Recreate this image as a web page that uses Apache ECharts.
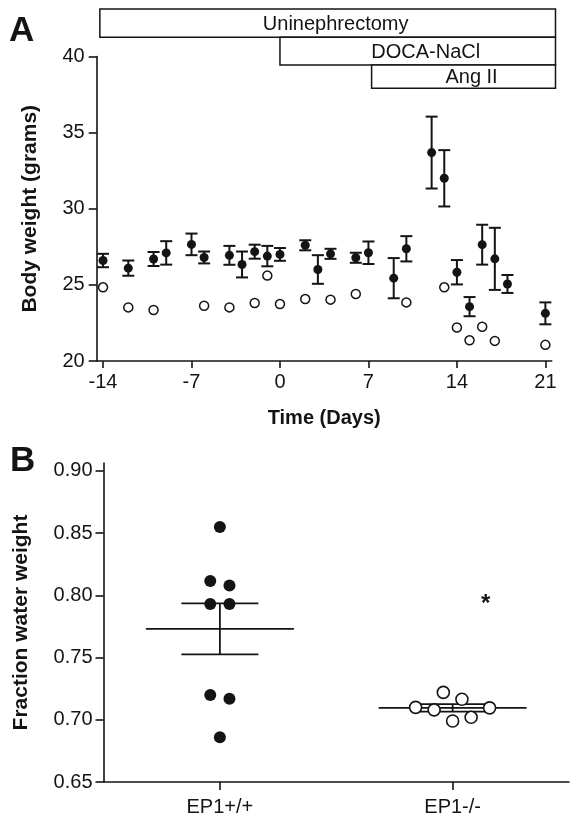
<!DOCTYPE html>
<html><head><meta charset="utf-8">
<script src="https://cdn.jsdelivr.net/npm/echarts@6/dist/echarts.min.js"></script>
<style>html,body{margin:0;padding:0;background:#fff}#c{width:578px;height:826px}</style>
</head><body><div id="c"></div>
<script>
const FONT = "'Liberation Sans', Arial, Helvetica, sans-serif";
const INK = '#141414';

// ---------- Panel A data ----------
const dayTicks = [-14, -7, 0, 7, 14, 21];
const weightTicks = [20, 25, 30, 35, 40];
// EP1+/+ (filled) : day, mean body weight, SEM
const filledDays = [-14, -12, -10, -9, -7, -6, -4, -3, -2, -1, 0, 2, 3, 4, 6, 7, 9, 10, 12, 13, 14, 15, 16, 17, 18, 21];
const filledWeight = [26.6, 26.1, 26.7, 27.1, 27.66, 26.8, 26.94, 26.34, 27.18, 26.89, 27.0, 27.6, 26.01, 27.04, 26.78, 27.11, 25.44, 27.37, 33.69, 32.0, 25.83, 23.57, 27.64, 26.71, 25.06, 23.13];
const filledSem = [0.44, 0.5, 0.46, 0.77, 0.71, 0.39, 0.62, 0.85, 0.46, 0.67, 0.42, 0.33, 0.94, 0.33, 0.33, 0.74, 1.32, 0.83, 2.36, 1.85, 0.8, 0.63, 1.31, 2.04, 0.59, 0.72];
// EP1-/- (open)
const openDays = [-14, -12, -10, -6, -4, -2, -1, 0, 2, 4, 6, 10, 13, 14, 15, 16, 17, 21];
const openWeight = [24.84, 23.52, 23.35, 23.63, 23.52, 23.81, 25.61, 23.74, 24.07, 24.03, 24.4, 23.85, 24.84, 22.2, 21.36, 22.25, 21.32, 21.06];
// treatment periods (days)
const treatmentLabels = ['Uninephrectomy', 'DOCA-NaCl', 'Ang II'];
const treatmentStart = [-14.25, 0, 7.25];
const treatmentEnd = [21.8, 21.8, 21.8];

// ---------- Panel B data ----------
const groups = ['EP1+/+', 'EP1-/-'];
const fractionTicks = [0.65, 0.70, 0.75, 0.80, 0.85, 0.90];
const wtWater = [0.855, 0.8115, 0.808, 0.793, 0.793, 0.720, 0.717, 0.686];
const koWater = [0.710, 0.708, 0.722, 0.699, 0.7165, 0.702, 0.7096];
const groupMean = [0.773, 0.7096];
const groupSem = [0.0205, 0.003];
const sigGroup = ['EP1-/-'];
const sigValue = [0.797];
const sigMark = ['*'];

// layout-only: horizontal jitter of dots (px)
const wtJitterPx = [0, -9.6, 9.6, -9.6, 9.6, -9.6, 9.6, 0];
const koJitterPx = [-37, -18.5, -9.3, 0, 9.3, 18.5, 37];
const rowTopPx = [9, 37.3, 65];
const rowBottomPx = [37.3, 65, 88.3];

const chart = echarts.init(document.getElementById('c'), null, {renderer: 'canvas'});

function errRender(params, api) {
  const x = api.value(0), m = api.value(1), s = api.value(2);
  const t = api.coord([x, m + s]), b = api.coord([x, m - s]);
  const hw = 6, st = {stroke: INK, lineWidth: 2};
  return {type: 'group', children: [
    {type: 'line', shape: {x1: t[0], y1: t[1], x2: b[0], y2: b[1]}, style: st},
    {type: 'line', shape: {x1: t[0] - hw, y1: t[1], x2: t[0] + hw, y2: t[1]}, style: st},
    {type: 'line', shape: {x1: b[0] - hw, y1: b[1], x2: b[0] + hw, y2: b[1]}, style: st}
  ]};
}

function boxRender(params, api) {
  const i = params.dataIndex;
  const x1 = api.coord([api.value(0), 30])[0];
  const x2 = api.coord([api.value(1), 30])[0];
  const y1 = rowTopPx[i], y2 = rowBottomPx[i];
  return {type: 'group', children: [
    {type: 'rect', shape: {x: x1, y: y1, width: x2 - x1, height: y2 - y1},
      style: {fill: '#fff', stroke: INK, lineWidth: 1.5}},
    {type: 'text', style: {x: (x1 + x2) / 2 + 8, y: (y1 + y2) / 2 + 1, text: treatmentLabels[i],
      fill: INK, font: '20px ' + FONT, align: 'center', verticalAlign: 'middle'}}
  ]};
}

function meanRender(params, api) {
  const c = api.value(0), m = api.value(1), s = api.value(2);
  const p = api.coord([c, m]), t = api.coord([c, m + s]), b = api.coord([c, m - s]);
  const mw = 74, cw = 38.5, st = {stroke: INK, lineWidth: 1.8};
  return {type: 'group', children: [
    {type: 'line', shape: {x1: p[0] - mw, y1: p[1], x2: p[0] + mw, y2: p[1]}, style: st},
    {type: 'line', shape: {x1: t[0], y1: t[1], x2: b[0], y2: b[1]}, style: st},
    {type: 'line', shape: {x1: t[0] - cw, y1: t[1], x2: t[0] + cw, y2: t[1]}, style: st},
    {type: 'line', shape: {x1: b[0] - cw, y1: b[1], x2: b[0] + cw, y2: b[1]}, style: st}
  ]};
}

const axisLine = {show: true, onZero: false, lineStyle: {color: INK, width: 1.6}};
const labelA = {color: INK, fontSize: 20, fontFamily: FONT};
const labelB = {color: INK, fontSize: 20, fontFamily: FONT};
const nameStyle = {color: INK, fontSize: 20, fontWeight: 'bold', fontFamily: FONT};
const nameStyleY = {color: INK, fontSize: 21, fontWeight: 'bold', fontFamily: FONT};

const option = {
  animation: false,
  backgroundColor: '#fff',
  grid: [
    {left: 96.7, top: 56.5, width: 455, height: 304.5},
    {left: 103.5, top: 463, width: 465.5, height: 319}
  ],
  xAxis: [
    {gridIndex: 0, type: 'value', min: -14.5, max: 21.5,
      axisLine: axisLine, splitLine: {show: false},
      axisTick: {show: true, length: 7, lineStyle: {color: INK, width: 1.6}, customValues: dayTicks},
      axisLabel: Object.assign({margin: 11, customValues: dayTicks}, labelA),
      name: 'Time (Days)', nameLocation: 'middle', nameGap: 47, nameTextStyle: nameStyle},
    {gridIndex: 1, type: 'category', data: groups, boundaryGap: true,
      axisLine: axisLine,
      axisTick: {show: true, alignWithLabel: true, length: 8, lineStyle: {color: INK, width: 1.6}},
      axisLabel: Object.assign({margin: 15}, labelB)}
  ],
  yAxis: [
    {gridIndex: 0, type: 'value', min: 20, max: 40, interval: 5,
      axisLine: axisLine, splitLine: {show: false},
      axisTick: {show: true, length: 8, lineStyle: {color: INK, width: 1.6}},
      axisLabel: Object.assign({margin: 12}, labelA),
      name: 'Body weight (grams)', nameLocation: 'middle', nameGap: 56, nameTextStyle: nameStyleY},
    {gridIndex: 1, type: 'value', min: 0.65, max: 0.9064,
      axisLine: axisLine, splitLine: {show: false},
      axisTick: {show: true, length: 8, lineStyle: {color: INK, width: 1.6}, customValues: fractionTicks},
      axisLabel: Object.assign({margin: 11, customValues: fractionTicks, formatter: v => v.toFixed(2)}, labelB),
      name: 'Fraction water weight', nameLocation: 'middle', nameGap: 72, nameTextStyle: nameStyleY}
  ],
  series: [
    {type: 'custom', xAxisIndex: 0, yAxisIndex: 0, renderItem: boxRender, clip: false, silent: true,
      data: treatmentStart.map((s, i) => [s, treatmentEnd[i], 30]), encode: {x: [0, 1], y: 2}, z: 1},
    {type: 'custom', xAxisIndex: 0, yAxisIndex: 0, renderItem: errRender, silent: true,
      data: filledDays.map((d, i) => [d, filledWeight[i], filledSem[i]]), encode: {x: 0, y: 1}, z: 2},
    {type: 'scatter', xAxisIndex: 0, yAxisIndex: 0, symbol: 'circle', symbolSize: 9,
      itemStyle: {color: INK, opacity: 1}, data: filledDays.map((d, i) => [d, filledWeight[i]]), z: 3},
    {type: 'scatter', xAxisIndex: 0, yAxisIndex: 0, symbol: 'circle', symbolSize: 9,
      itemStyle: {color: '#fff', borderColor: INK, borderWidth: 1.5, opacity: 1},
      data: openDays.map((d, i) => [d, openWeight[i]]), z: 3},

    {type: 'custom', xAxisIndex: 1, yAxisIndex: 1, renderItem: meanRender, silent: true,
      data: groups.map((g, i) => [i, groupMean[i], groupSem[i]]), encode: {x: 0, y: 1}, z: 2},
    {type: 'scatter', xAxisIndex: 1, yAxisIndex: 1, symbol: 'circle', symbolSize: 12,
      itemStyle: {color: INK, opacity: 1},
      data: wtWater.map((v, i) => ({value: [0, v], symbolOffset: [wtJitterPx[i], 0]})), z: 3},
    {type: 'scatter', xAxisIndex: 1, yAxisIndex: 1, symbol: 'circle', symbolSize: 12,
      itemStyle: {color: '#fff', borderColor: INK, borderWidth: 1.6, opacity: 1},
      data: koWater.map((v, i) => ({value: [1, v], symbolOffset: [koJitterPx[i], 0]})), z: 3},
    {type: 'scatter', xAxisIndex: 1, yAxisIndex: 1, symbolSize: 0, silent: true,
      itemStyle: {opacity: 1},
      data: sigGroup.map((g, i) => ({value: [groups.indexOf(g), sigValue[i]], name: sigMark[i]})),
      label: {show: true, formatter: p => p.name, offset: [33, 5], color: INK,
        fontSize: 24, fontWeight: 'bold', fontFamily: FONT, position: 'inside'}, z: 4}
  ],
  graphic: [
    {type: 'text', left: 9, top: 14, style: {text: 'A', fill: INK, font: 'bold 35px ' + FONT}},
    {type: 'text', left: 10, top: 444, style: {text: 'B', fill: INK, font: 'bold 35px ' + FONT}}
  ]
};
chart.setOption(option);
</script>
</body></html>
